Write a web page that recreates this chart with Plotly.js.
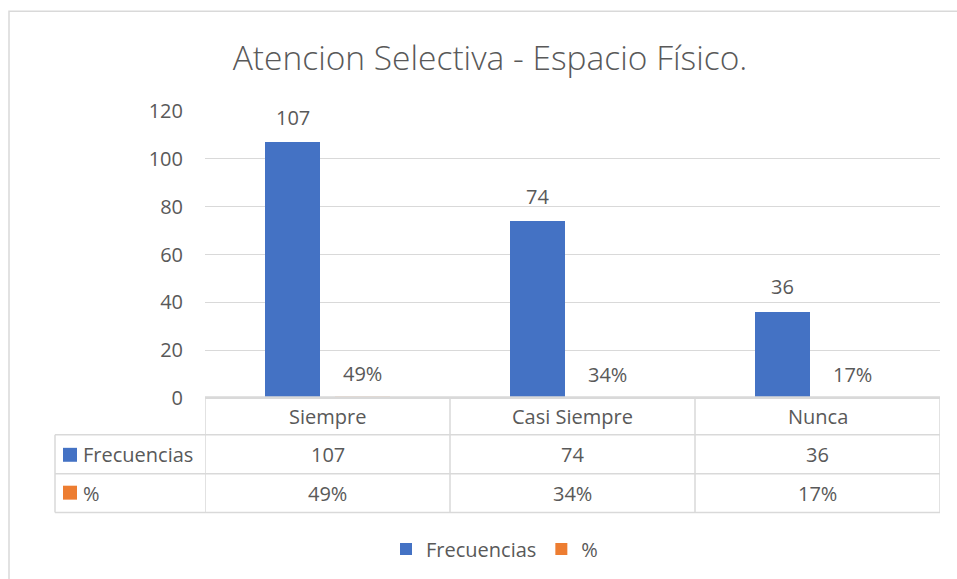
<!DOCTYPE html>
<html>
<head>
<meta charset="utf-8">
<script src="https://cdn.plot.ly/plotly-3.0.1.min.js"></script>
<style>html,body{margin:0;padding:0;background:#fff;}#chart{width:957px;height:579px;}</style>
</head>
<body>
<div id="chart"></div>
<script>
const categories = ["Siempre", "Casi Siempre", "Nunca"];
const frecuencias = [107, 74, 36];
const porcentaje = [0.49, 0.34, 0.17];
const seriesNames = ["Frecuencias", "%"];
const titleText = "Atencion Selectiva - Espacio Físico.";
const yTicks = [0, 20, 40, 60, 80, 100, 120];

const FONT = "'Open Sans', 'Noto Sans', sans-serif";
const FS = 20;
const TXT = "#595959";
const GRID = "#d9d9d9";
const BLUE = "#4472C4";
const ORANGE = "#ED7D31";

// pixel -> paper helpers (plot area: x 205..940, y 111..399)
const L = 205, R = 940, T = 111, B = 399;
const X = p => (p - L) / (R - L);
const Y = p => (B - p) / (B - T);
const pct = v => Math.round(v * 100) + "%";

const traces = [
  {type: "bar", name: seriesNames[0], x: categories, y: frecuencias,
   marker: {color: BLUE}, hoverinfo: "skip"},
  {type: "bar", name: seriesNames[1], x: categories, y: porcentaje,
   marker: {color: ORANGE}, hoverinfo: "skip"}
];

const annotations = [];
const shapes = [];
const tf = {family: FONT, size: FS, color: TXT};

categories.forEach((c, i) => {
  annotations.push({x: c, y: frecuencias[i], xref: "x", yref: "y", text: String(frecuencias[i]),
    showarrow: false, xshift: -35, yshift: 25, yanchor: "middle", font: tf});
  annotations.push({x: c, y: porcentaje[i], xref: "x", yref: "y", text: pct(porcentaje[i]),
    showarrow: false, xshift: 35, yshift: 23, yanchor: "middle", font: tf});
  annotations.push({x: c, y: Y(418), xref: "x", yref: "paper", text: c, showarrow: false,
    yanchor: "middle", font: tf});
  annotations.push({x: c, y: Y(456), xref: "x", yref: "paper", text: String(frecuencias[i]), showarrow: false,
    yanchor: "middle", font: tf});
  annotations.push({x: c, y: Y(495), xref: "x", yref: "paper", text: pct(porcentaje[i]), showarrow: false,
    yanchor: "middle", font: tf});
});

annotations.push({x: X(81), y: Y(456), xref: "paper", yref: "paper", text: seriesNames[0], showarrow: false,
  xanchor: "left", yanchor: "middle", font: tf});
annotations.push({x: X(81), y: Y(495), xref: "paper", yref: "paper", text: seriesNames[1], showarrow: false,
  xanchor: "left", yanchor: "middle", font: tf});
shapes.push({type: "rect", xref: "paper", yref: "paper", x0: X(63), x1: X(77), y0: Y(463), y1: Y(449),
  fillcolor: BLUE, line: {width: 0}});
shapes.push({type: "rect", xref: "paper", yref: "paper", x0: X(63), x1: X(77), y0: Y(501), y1: Y(487),
  fillcolor: ORANGE, line: {width: 0}});

const ln = {color: GRID, width: 1.5};
shapes.push({type: "line", xref: "paper", yref: "paper", x0: X(205), x1: X(940), y0: Y(398.6), y1: Y(398.6),
  line: {color: GRID, width: 2.8}});
[436, 475, 514].forEach(py => shapes.push({type: "line", xref: "paper", yref: "paper",
  x0: X(55), x1: X(940), y0: Y(py), y1: Y(py), line: ln}));
shapes.push({type: "line", xref: "paper", yref: "paper", x0: X(55), x1: X(55), y0: Y(436), y1: Y(514), line: ln});
for (let k = 0; k <= categories.length; k++) {
  shapes.push({type: "line", xref: "x", yref: "paper", x0: k - 0.5, x1: k - 0.5, y0: Y(399), y1: Y(514), line: ln});
}

shapes.push({type: "rect", xref: "paper", yref: "paper", x0: X(9), x1: X(980), y0: Y(600), y1: Y(11),
  line: {color: GRID, width: 1.5}, fillcolor: "rgba(0,0,0,0)", layer: "below"});

const layout = {
  width: 957, height: 579,
  paper_bgcolor: "#fff", plot_bgcolor: "#fff",
  margin: {l: L, r: 957 - R, t: T, b: 579 - B, pad: 0},
  title: {text: titleText, x: 490 / 957, xanchor: "center", y: 1 - 58 / 579, yanchor: "middle",
    font: {family: FONT, size: 33.5, color: TXT, weight: 300}},
  barmode: "group", bargap: 0.4286, bargroupgap: 0.2143,
  xaxis: {showticklabels: false, showgrid: false, showline: false, zeroline: false, ticks: "",
    range: [-0.5, categories.length - 0.5], fixedrange: true},
  yaxis: {range: [0, 120], tickvals: yTicks, showgrid: true, gridcolor: GRID, gridwidth: 1,
    zeroline: false, showline: false, ticks: "", ticklabelstandoff: 21,
    tickfont: tf, fixedrange: true},
  showlegend: true,
  legend: {orientation: "h", x: X(386), xanchor: "left", y: Y(549), yanchor: "middle",
    font: tf, itemclick: false, itemdoubleclick: false, bgcolor: "rgba(0,0,0,0)"},
  annotations: annotations,
  shapes: shapes
};

Plotly.newPlot("chart", traces, layout, {staticPlot: true, displayModeBar: false});
</script>
</body>
</html>
